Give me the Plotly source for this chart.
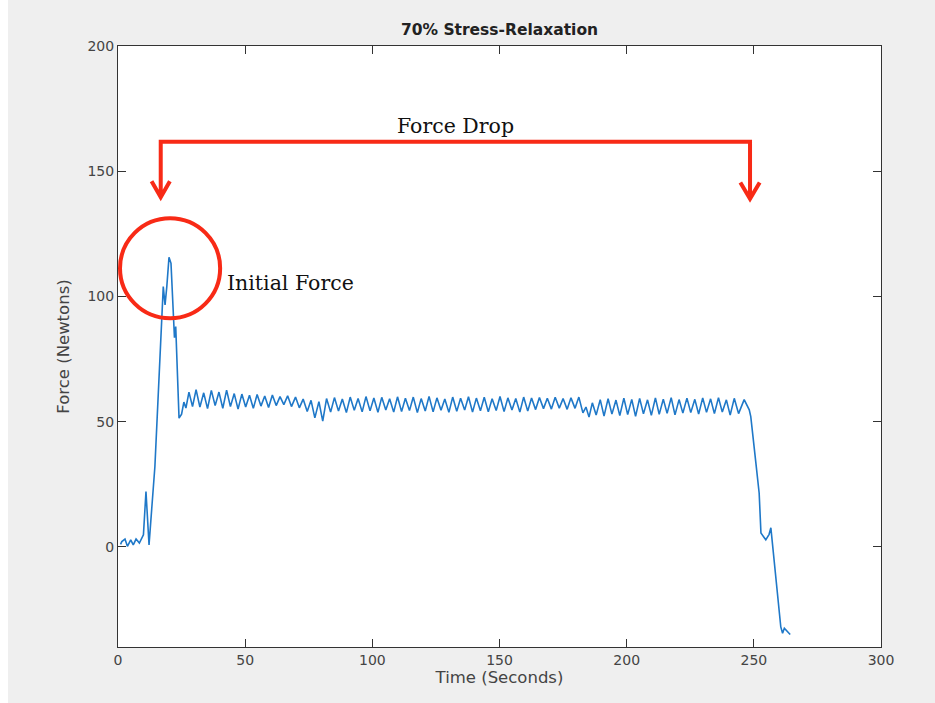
import plotly.graph_objects as go

# ---- data ----
time_s = [
    1.0, 1.5, 2.75, 3.7, 5.0, 6.0, 7.1, 8.4, 10.0, 11.0, 12.2, 14.5, 17.8, 18.5, 19.2,
    20.05, 20.84, 21.75, 22.2, 22.7, 24.0, 25.0, 25.9, 26.7, 27.9, 29.3, 30.7, 32.2,
    33.7, 35.2, 36.7, 38.2, 39.7, 41.2, 42.7, 44.2, 45.7,
    47.2, 48.7, 50.2, 51.7, 53.2, 54.7, 56.2, 57.7, 59.2, 60.7, 62.2, 63.7, 65.2, 66.7,
    68.2, 69.8,
    71.3, 72.8, 74.4, 75.9, 77.4, 79.0, 80.5, 82.0,
    83.6, 85.1, 86.7, 88.2, 89.8, 91.3, 92.9, 94.4, 96.0, 97.5, 99.1, 100.6, 102.2,
    103.7, 105.3, 106.8, 108.4, 109.9, 111.5, 113.0, 114.6, 116.1, 117.7, 119.2, 120.8,
    122.3, 123.9, 125.4, 127.0, 128.5, 130.1, 131.6, 133.2, 134.7, 136.3, 137.8, 139.4,
    140.9, 142.5, 144.0, 145.6, 147.1, 148.7, 150.2, 151.8, 153.3, 154.9, 156.4, 158.0,
    159.5, 161.1, 162.6, 164.2,
    165.7, 167.3, 168.8, 170.4, 171.9, 173.5, 175.0, 176.6, 178.1, 179.7, 181.2,
    182.8, 184.0, 185.2, 186.5,
    188.0, 189.6, 191.1, 192.7, 194.2, 195.8, 197.3, 198.9, 200.4, 202.0, 203.5, 205.1,
    206.6, 208.2, 209.7, 211.3, 212.8, 214.4, 215.9, 217.5, 219.0, 220.6, 222.1, 223.7,
    225.2, 226.8, 228.3, 229.9, 231.4, 233.0, 234.5, 236.1, 237.6, 239.2, 240.7, 242.3,
    244.0, 246.2,
    248.2, 248.8, 250.8, 252.1, 252.8, 254.7, 256.0, 256.7, 260.6, 261.3, 262.0, 264.3,
]

force_n = [
    1.0, 2.1, 3.1, 0.2, 2.8, 0.8, 3.1, 1.5, 4.8, 22.1, 0.8, 32.0, 103.9, 96.6, 104.0,
    115.6, 113.2, 90.0, 83.5, 88.0, 51.4, 53.0, 57.8, 55.4, 61.8, 56.0, 62.8, 55.8,
    61.5, 55.2, 62.5, 56.4, 61.8, 55.3, 62.6, 56.0, 61.2,
    55.0, 61.0, 55.8, 60.5, 55.3, 60.8, 56.2, 60.2, 55.6, 60.6, 56.4, 60.0, 56.8, 60.3,
    56.0, 59.8,
    55.5, 59.0, 54.0, 58.5, 51.5, 58.0, 50.2, 59.2,
    53.8, 59.6, 54.2, 59.0, 53.6, 59.8, 54.5, 59.2, 53.9, 60.0, 54.3, 59.4, 53.7,
    59.7, 54.6, 59.1, 53.8, 59.9, 54.0, 59.3, 54.4, 59.8, 53.6, 59.2, 54.2,
    60.1, 53.9, 59.5, 54.5, 59.0, 53.7, 59.8, 54.1, 59.3, 54.6, 59.9, 53.8,
    59.4, 54.3, 59.7, 53.9, 59.1, 54.4, 60.0, 54.0, 59.5, 54.6, 59.2, 53.8,
    59.8, 54.2, 59.4, 54.8,
    59.6, 55.2, 59.3, 55.0, 59.7, 55.4, 59.2, 54.9, 59.5, 55.3, 59.8,
    53.5, 55.8, 51.8, 57.5,
    52.6, 58.8, 52.2, 59.2, 53.0, 58.6, 52.4, 59.4, 52.8, 58.9, 52.1, 59.3,
    53.1, 58.7, 52.5, 59.5, 52.9, 59.0, 53.3, 59.6, 52.7, 58.8, 53.4, 59.4,
    53.6, 58.9, 53.0, 59.5, 53.7, 59.1, 53.2, 59.6, 53.8, 58.7, 52.6, 59.3,
    53.2, 58.8,
    54.7, 52.0, 33.5, 21.4, 5.5, 2.8, 5.0, 7.6, -32.0, -34.5, -32.5, -35.0,
]

x_ticks = [0, 50, 100, 150, 200, 250, 300]
y_ticks = [0, 50, 100, 150, 200]

title_text = "70% Stress-Relaxation"
x_title = "Time (Seconds)"
y_title = "Force (Newtons)"
note_drop = "Force Drop"
note_initial = "Initial Force"

# ---- figure ----
W, H = 935, 703
ML, MR, MT, MB = 118, 54, 46, 56
RED = "rgb(248,42,22)"
AX = "#333333"
TXT = "#444444"

fig = go.Figure()
fig.add_trace(go.Scatter(
    x=time_s, y=force_n, mode="lines",
    line=dict(color="#1f78c8", width=1.6),
    showlegend=False, hoverinfo="skip",
))

axis_common = dict(
    showline=True, linecolor=AX, linewidth=1, mirror="ticks",
    ticks="inside", ticklen=8, tickcolor=AX, tickwidth=1,
    showgrid=False, zeroline=False,
    tickfont=dict(family="DejaVu Sans", size=14, color=TXT),
)

fig.update_xaxes(range=[0, 300], tickvals=x_ticks, ticktext=[str(v) for v in x_ticks],
                 title=dict(text=x_title, font=dict(family="DejaVu Sans", size=16.5, color=TXT),
                            standoff=4),
                 **axis_common)
fig.update_yaxes(range=[-40, 200], tickvals=y_ticks, ticktext=[str(v) for v in y_ticks],
                 title=dict(text=y_title, font=dict(family="DejaVu Sans", size=16.5, color=TXT),
                            standoff=13),
                 **axis_common)

pw = W - ML - MR
ph = H - MT - MB

shapes = [
    # white outer strips (left and top) around the grey figure background
    dict(type="rect", xref="paper", yref="paper", x0=-ML / pw, x1=(8 - ML) / pw,
         y0=-MB / ph, y1=(H - MT) / ph + 0.01, fillcolor="white", line=dict(width=0), layer="below"),
    dict(type="rect", xref="paper", yref="paper", x0=-ML / pw, x1=(W - ML) / pw,
         y0=(H - MT - 4) / ph, y1=(H - MT) / ph + 0.01, fillcolor="white", line=dict(width=0), layer="below"),
    # circle around the initial force
    dict(type="circle", xref="x", yref="y", x0=0.79, x1=40.16, y0=91.3, y1=131.2,
         line=dict(color=RED, width=4)),
    # bracket
    dict(type="path", xref="x", yref="y",
         path="M 16.8,146.5 L 16.8,161.8 L 248.5,161.8 L 248.5,146.5",
         line=dict(color=RED, width=4)),
    # left arrowhead
    dict(type="path", xref="x", yref="y",
         path="M 16.8,146.5 L 16.8,139.6 M 13.2,146.0 L 16.8,139.6 L 20.4,146.0",
         line=dict(color=RED, width=4)),
    # right arrowhead
    dict(type="path", xref="x", yref="y",
         path="M 248.5,146.5 L 248.5,139.0 M 244.7,145.5 L 248.5,139.0 L 252.3,145.5",
         line=dict(color=RED, width=4)),
]

annotations = [
    dict(text=note_drop, x=132.7, y=168.0, xref="x", yref="y", showarrow=False,
         xanchor="center", yanchor="middle",
         font=dict(family="DejaVu Serif", size=20.5, color="#111111")),
    dict(text=note_initial, x=42.0, y=105.3, xref="x", yref="y", showarrow=False,
         xanchor="left", yanchor="middle",
         font=dict(family="DejaVu Serif", size=20.5, color="#111111")),
]

fig.update_layout(
    width=W, height=H,
    margin=dict(l=ML, r=MR, t=MT, b=MB),
    paper_bgcolor="#efefef", plot_bgcolor="white",
    title=dict(text="<b>" + title_text + "</b>", x=0.5, xref="paper",
               y=1 - 30 / H, yref="container", xanchor="center", yanchor="middle",
               font=dict(family="DejaVu Sans", size=15.5, color="#222222")),
    shapes=shapes, annotations=annotations,
)

fig.write_html("out.html")
